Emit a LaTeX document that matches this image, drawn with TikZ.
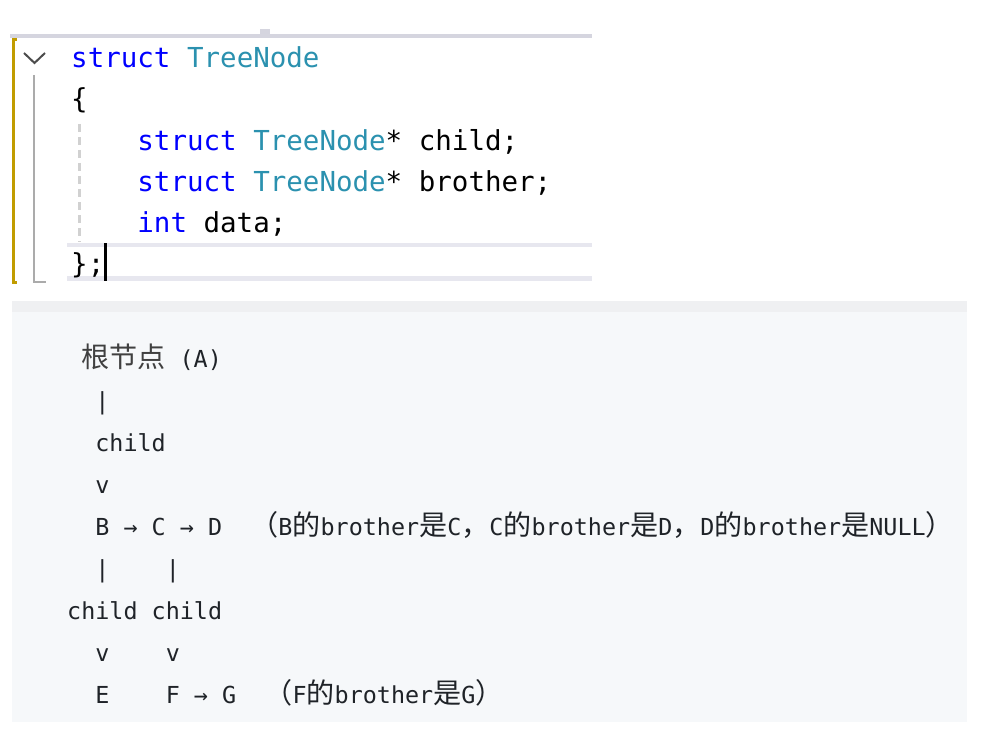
\documentclass[tikz,border=0pt]{standalone}
\usepackage{fontspec}
\setmonofont{DejaVu Sans Mono}
\newfontfamily\zhfont[Scale=1.2]{Noto Sans CJK SC}
\usepackage{xcolor}
\usepackage{tikz}
\usetikzlibrary{positioning}
\definecolor{KeyBlue}{HTML}{0000FF}
\definecolor{TypeTeal}{HTML}{2B91AF}
\definecolor{FoldGold}{HTML}{C19C00}
\definecolor{GuideGray}{HTML}{ABABAB}
\definecolor{RuleLilac}{HTML}{D5D5DF}
\definecolor{LineBand}{HTML}{E7E7EF}
\definecolor{BlockBg}{HTML}{F6F8FA}
\definecolor{BlockTop}{HTML}{EFF0F2}
\definecolor{InkGray}{HTML}{1F2328}
\newcommand{\zh}[1]{{\zhfont #1}}
\newcommand{\kw}[1]{\textcolor{KeyBlue}{#1}}
\newcommand{\ty}[1]{\textcolor{TypeTeal}{#1}}

\begin{document}
\begin{tikzpicture}[x=1pt, y=-1pt,
        editor/.style={anchor=base west, inner sep=0pt, font=\ttfamily\fontsize{27.5}{30}\selectfont},
        block/.style={anchor=base west, inner sep=0pt, text=InkGray, font=\ttfamily\fontsize{23.4}{26}\selectfont},
        band/.style={draw=LineBand, line width=4.5pt}
    ]
        \useasboundingbox (0,0) rectangle (1007,749);

        % editor frame
        \draw [RuleLilac, line width=4pt] (10,36) -- (592,36);
        \fill [RuleLilac] (260,29) rectangle (270,36);
        \draw [FoldGold, line width=3pt] (16.5,40) -- (13.5,40) -- (13.5,282) -- (16.5,282);
        \draw [black!70, line width=2pt] (24,53) -- (34.5,63) -- (45,53);
        \draw [GuideGray, line width=2.5pt] (34,75) -- (34,282) -- (46,282);
        \draw [black!18, line width=3pt, dash pattern=on 8pt off 5pt] (79,124) -- (79,242);
        \draw [band] (67,245) -- (592,245);
        \draw [band] (67,278.5) -- (592,278.5);

        \node [editor] (sig) at (71,68) {\kw{struct} \ty{TreeNode}};
        \node [editor] (open) at (71,109) {\{};
        \node [editor] (fchild) at (137.2,150) {\kw{struct} \ty{TreeNode}* child;};
        \node [editor] (fbro) at (137.2,191) {\kw{struct} \ty{TreeNode}* brother;};
        \node [editor] (fdata) at (137.2,232) {\kw{int} data;};
        \node [editor] (close) at (71,273) {\};};
        \draw [line width=2.2pt] (105.5,243) -- (105.5,281);

        % tree sketch block
        \fill [BlockBg] (12,301) rectangle (967,722);
        \fill [BlockTop] (12,301) rectangle (967,312);

        \node [block] (root) at (67,367) {~\textcolor{black!75}{\zh{根节点}}~(A)};
        \node [block] (bar1) at (67,409) {~~|};
        \node [block] (lbl1) at (67,451) {~~child};
        \node [block] (tip1) at (67,493) {~~v};
        \node [block] (sib1) at (67,535) {~~B → C → D~~\zh{（}B\zh{的}brother\zh{是}C\zh{，}C\zh{的}brother\zh{是}D\zh{，}D\zh{的}brother\zh{是}NULL\zh{）}};
        \node [block] (bar2) at (67,577) {~~|~~~~|};
        \node [block] (lbl2) at (67,619) {child child};
        \node [block] (tip2) at (67,661) {~~v~~~~v};
        \node [block] (sib2) at (67,703) {~~E~~~~F → G~~\zh{（}F\zh{的}brother\zh{是}G\zh{）}};
    \end{tikzpicture}
\end{document}
